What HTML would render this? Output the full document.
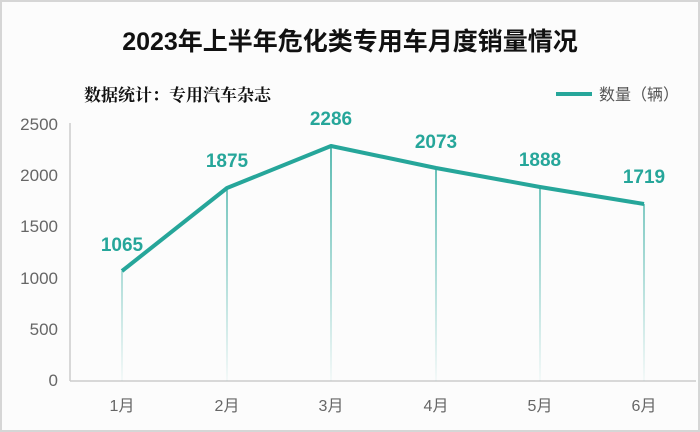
<!DOCTYPE html>
<html><head><meta charset="utf-8"><style>
html,body{margin:0;padding:0;background:#fff}
svg{display:block}
text{font-family:"Liberation Sans","Noto Sans CJK SC",sans-serif}
</style></head><body>
<svg width="700" height="432" viewBox="0 0 700 432">
<defs>
<linearGradient id="g" gradientUnits="userSpaceOnUse" x1="0" y1="146" x2="0" y2="381"><stop offset="0" stop-color="#26a69a"/><stop offset="1" stop-color="#26a69a" stop-opacity="0.05"/></linearGradient>
</defs>
<rect x="0" y="0" width="700" height="432" fill="#fcfcfc"/>
<rect x="1" y="1" width="698" height="430" fill="none" stroke="#d6d6d6" stroke-width="2"/>
<text x="350" y="50" text-anchor="middle" font-size="25" font-weight="bold" fill="#111">2023年上半年危化类专用车月度销量情况</text>
<text x="84" y="101" font-size="17" font-weight="bold" fill="#111" style="font-family:'Noto Serif CJK SC',serif">数据统计：专用汽车杂志</text>
<line x1="556" y1="94" x2="592" y2="94" stroke="#26a69a" stroke-width="4"/>
<text x="599" y="100" font-size="16" fill="#555">数量（辆）</text>
<g font-size="17" fill="#666" text-anchor="end">
<text x="58" y="130">2500</text><text x="58" y="181">2000</text><text x="58" y="232">1500</text><text x="58" y="284">1000</text><text x="58" y="335">500</text><text x="58" y="386">0</text>
</g>
<line x1="70" y1="123" x2="70" y2="381" stroke="#ccc" stroke-width="1.5"/>
<line x1="70" y1="381" x2="696" y2="381" stroke="#ccc" stroke-width="1.5"/>
<g stroke="url(#g)" stroke-width="1.5">
<line x1="122" y1="271" x2="122" y2="381"/>
<line x1="227" y1="188" x2="227" y2="381"/>
<line x1="331" y1="146" x2="331" y2="381"/>
<line x1="436" y1="168" x2="436" y2="381"/>
<line x1="540" y1="187" x2="540" y2="381"/>
<line x1="644" y1="204" x2="644" y2="381"/>
</g>
<polyline points="122,271 227,188 331,146 436,168 540,187 644,204" fill="none" stroke="#26a69a" stroke-width="4" stroke-linejoin="round"/>
<g font-size="19" font-weight="bold" fill="#26a69a" text-anchor="middle">
<text x="122" y="251">1065</text><text x="227" y="167">1875</text><text x="331" y="125">2286</text><text x="436" y="148">2073</text><text x="540" y="166">1888</text><text x="644" y="183">1719</text>
</g>
<g font-size="16" fill="#666" text-anchor="middle">
<text x="122" y="411">1月</text><text x="227" y="411">2月</text><text x="331" y="411">3月</text><text x="436" y="411">4月</text><text x="540" y="411">5月</text><text x="644" y="411">6月</text>
</g>
</svg>
</body></html>
